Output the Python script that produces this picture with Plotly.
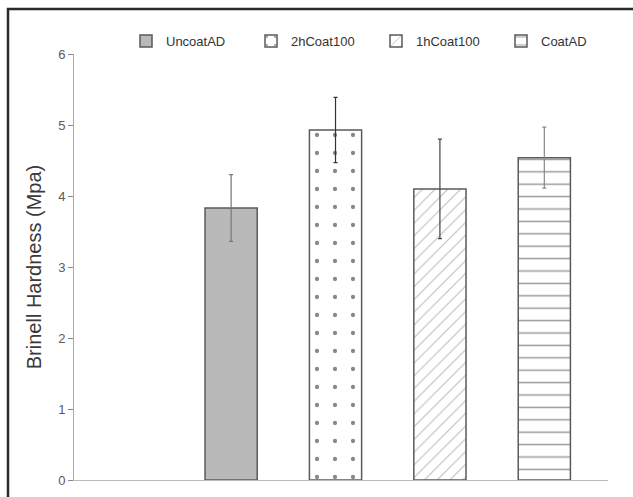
import plotly.graph_objects as go

# ---- data ----
categories = ["UncoatAD", "2hCoat100", "1hCoat100", "CoatAD"]
positions = [1, 2, 3, 4]
hardness = [3.83, 4.93, 4.10, 4.54]
errors = [0.47, 0.46, 0.70, 0.43]
y_ticks = [0, 1, 2, 3, 4, 5, 6]

# ---- styles ----
fills = ["#b9b9b9", "white", "white", "white"]
patterns = [
    dict(shape=""),
    dict(shape=".", size=18, solidity=0.045, fgcolor="#111111", bgcolor="white"),
    dict(shape="/", size=9, solidity=0.12, fgcolor="#7a7a7a", bgcolor="white"),
    dict(shape="-", size=12.4, solidity=0.12, fgcolor="#333333", bgcolor="white"),
]
err_colors = ["#777777", "#333333", "#444444", "#888888"]

W, H = 633, 497
ML, MR, MT, MB = 74, 25, 54, 17
pw = W - ML - MR
ph = H - MT - MB

fig = go.Figure()
for i, name in enumerate(categories):
    fig.add_trace(go.Bar(
        x=[positions[i]], y=[hardness[i]], name=name, width=0.5,
        marker=dict(color=fills[i], pattern=patterns[i],
                    line=dict(color="#5a5a5a", width=1.5)),
        error_y=dict(type="data", array=[errors[i]], color=err_colors[i],
                     thickness=1.2, width=2),
    ))

def px_x(p):
    return (p - ML) / pw

def px_y(p):
    return (H - MB - p) / ph

fig.add_shape(type="rect", xref="paper", yref="paper",
              x0=px_x(8), x1=px_x(W + 10), y0=px_y(9), y1=px_y(H + 10),
              line=dict(color="#2a2a2a", width=2.5), fillcolor="rgba(0,0,0,0)",
              layer="above")

fig.update_layout(
    width=W, height=H,
    margin=dict(l=ML, r=MR, t=MT, b=MB, autoexpand=False),
    paper_bgcolor="white", plot_bgcolor="white",
    font=dict(family="Liberation Sans, Arial, sans-serif", color="#444444"),
    showlegend=True,
    legend=dict(orientation="h", x=px_x(126), y=px_y(41), xanchor="left",
                yanchor="middle", font=dict(size=13, color="#333333"),
                entrywidth=80, entrywidthmode="pixels",
                bgcolor="rgba(0,0,0,0)"),
    bargap=0.5,
    xaxis=dict(range=[-0.505, 4.61], showticklabels=False, ticks="",
               showgrid=False, zeroline=False, showline=True,
               linecolor="#bbbbbb", linewidth=1, automargin=False),
    yaxis=dict(range=[0, 6], tickvals=y_ticks, ticks="outside", ticklen=5,
               tickcolor="#888888", showgrid=False, zeroline=False,
               showline=True, linecolor="#aaaaaa", linewidth=1,
               automargin=False,
               tickfont=dict(size=13, color="#5a5a5a"),
               title=dict(text="Brinell Hardness (Mpa)",
                          font=dict(size=20, color="#3a3a3a"), standoff=11)),
)

fig.write_html("out.html", config={"displayModeBar": False},
               post_script="document.body.style.margin='0';document.body.style.overflow='hidden';")
